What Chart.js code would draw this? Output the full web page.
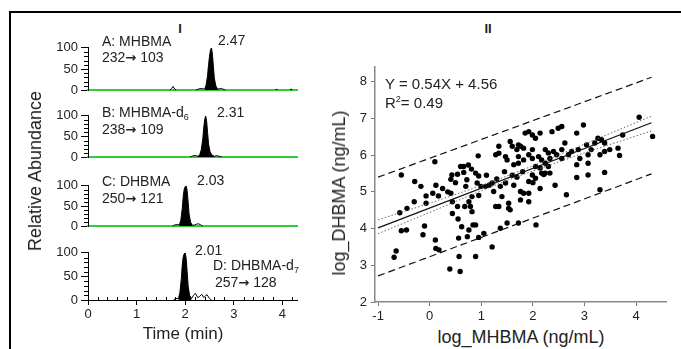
<!DOCTYPE html>
<html><head><meta charset="utf-8">
<script src="https://cdn.jsdelivr.net/npm/chart.js@4/dist/chart.umd.min.js"></script>
<style>
body{margin:0;width:681px;height:349px;background:#fff;position:relative;overflow:hidden;font-family:"Liberation Sans",Arial,sans-serif;color:#222}
.t{position:absolute;white-space:nowrap;line-height:1;font-size:14px}
.c{transform:translate(-50%,-50%)}
.r{transform:translate(-50%,-50%) rotate(-90deg)}
.a{font-family:"DejaVu Sans";font-weight:bold;font-size:13px}
sub{font-size:9px;vertical-align:-3px;line-height:0}
sup{font-size:9px;vertical-align:6px;line-height:0}
canvas{position:absolute}
#frame{position:absolute;left:9px;top:11px;width:720px;height:400px;border-left:2px solid #000;border-top:2px solid #000}
</style></head>
<body>
<div id="frame"></div>
<canvas id="cA" width="270" height="64" style="left:40px;top:37px"></canvas>
<canvas id="cB" width="270" height="63" style="left:40px;top:105px"></canvas>
<canvas id="cC" width="270" height="62" style="left:40px;top:175px"></canvas>
<canvas id="cD" width="270" height="80" style="left:40px;top:242px"></canvas>
<canvas id="cS" width="346" height="269" style="left:335px;top:55px"></canvas>

<div class="t c" style="left:180px;top:28px;font-weight:bold;font-size:13px">I</div>
<div class="t c" style="left:488px;top:28px;font-weight:bold;font-size:13px">II</div>

<div class="t" style="left:102px;top:34px">A: MHBMA</div>
<div class="t" style="left:102px;top:50px">232<span class="a">→</span> 103</div>
<div class="t" style="left:218px;top:33px">2.47</div>
<div class="t" style="left:102px;top:105px">B: MHBMA-d<sub>6</sub></div>
<div class="t" style="left:102px;top:122px">238<span class="a">→</span> 109</div>
<div class="t" style="left:217px;top:105px">2.31</div>
<div class="t" style="left:102px;top:174px">C: DHBMA</div>
<div class="t" style="left:102px;top:191px">250<span class="a">→</span> 121</div>
<div class="t" style="left:197px;top:173px">2.03</div>
<div class="t" style="left:195px;top:243px">2.01</div>
<div class="t" style="left:213px;top:258px">D: DHBMA-d<sub>7</sub></div>
<div class="t" style="left:215px;top:275px">257<span class="a">→</span> 128</div>

<div class="t c" style="left:183px;top:333px;font-size:17px">Time (min)</div>
<div class="t r" style="left:35px;top:171px;font-size:18px">Relative Abundance</div>

<div class="t" style="left:385px;top:76px;font-size:15px">Y = 0.54X + 4.56</div>
<div class="t" style="left:385px;top:95px;font-size:15px">R<sup>2</sup>= 0.49</div>
<div class="t c" style="left:521px;top:337px;font-size:18px">log_MHBMA (ng/mL)</div>
<div class="t r" style="left:339px;top:193px;font-size:18px">log_DHBMA (ng/mL)</div>

<script>
// ---- axis ticks ----
const timeTicks = [0, 1, 2, 3, 4];
const timeMinor = [0.2,0.4,0.6,0.8,1.2,1.4,1.6,1.8,2.2,2.4,2.6,2.8,3.2,3.4,3.6,3.8,4.2];
const abundTicks = [0, 50, 100];
const abundMinor = [10,20,30,40,60,70,80,90];
const logXTicks = [-1, 0, 1, 2, 3, 4];
const logYTicks = [2, 3, 4, 5, 6, 7, 8];

// ---- Panel A: MHBMA ----
const peakA_t = [2.40,2.43,2.46,2.48,2.50,2.52,2.54,2.56,2.58,2.60,2.63,2.67];
const peakA_v = [3,12,35,60,80,95,100,85,55,28,10,2];
const noiseA_t = [1.68,1.72,1.75,1.78,1.82,1.82,2.22,2.28,2.33,2.38,2.40,2.40,2.67,2.72,2.77,2.83,2.83,3.85,3.88,3.91,3.91,4.15,4.18,4.21];
const noiseA_v = [0,4,9,3,0,null,0,3,4,3,3,null,2,4,3,0,null,0,2,0,null,0,3,0];
// ---- Panel B: MHBMA-d6 ----
const peakB_t = [2.26,2.30,2.33,2.36,2.38,2.40,2.42,2.44,2.46,2.48,2.51,2.55,2.60];
const peakB_v = [2,6,18,42,70,90,100,88,60,32,14,5,2];
const noiseB_t = [2.10,2.15,2.20,2.24,2.26,2.26,2.60,2.65,2.70,2.76];
const noiseB_v = [0,3,4,3,2,null,2,4,2,0];
// ---- Panel C: DHBMA ----
const peakC_t = [1.88,1.91,1.94,1.96,1.98,2.00,2.02,2.04,2.06,2.08,2.11,2.15];
const peakC_v = [3,15,45,75,92,98,100,88,60,30,10,2];
const noiseC_t = [1.74,1.78,1.83,1.88,1.88,2.15,2.19,2.23,2.27,2.31,2.36];
const noiseC_v = [0,3,4,3,null,2,3,5,6,4,0];
// ---- Panel D: DHBMA-d7 ----
const peakD_t = [1.86,1.89,1.92,1.94,1.96,1.98,2.00,2.02,2.04,2.06,2.09,2.13];
const peakD_v = [3,15,45,75,92,98,100,88,60,30,10,3];
const noiseD_t = [1.76,1.80,1.86,1.86,2.13,2.17,2.21,2.26,2.30,2.34,2.38,2.42,2.45,2.50,2.54];
const noiseD_v = [0,3,3,null,3,10,14,5,8,12,5,9,11,3,0];

// ---- Panel II: scatter ----
const logMHBMA = [-0.55,-0.29,-0.17,-0.30,-0.44,-0.58,-0.55,-0.45,-0.13,-0.10,-0.65,-0.69,-0.07,-0.07,0.06,0.12,0.25,0.17,0.11,0.12,0.18,0.41,0.41,0.43,0.44,0.44,0.54,0.55,0.56,0.57,0.39,0.59,0.62,0.72,0.68,0.76,0.82,0.79,0.82,0.76,0.73,0.84,0.89,0.89,0.95,1.05,0.89,0.92,0.99,1.08,1.15,1.21,1.24,1.28,1.34,1.21,1.37,1.37,1.47,1.40,1.53,1.53,1.56,1.50,1.72,1.63,1.69,1.76,1.76,1.82,1.92,1.92,1.92,1.99,2.05,2.06,2.14,2.17,2.24,2.43,2.65,2.85,3.07,3.30,3.39,
 0.10,0.60,0.66,0.75,0.81,0.54,0.66,0.94,0.95,1.28,1.34,1.47,1.50,1.56,1.60,1.69,1.72,1.76,1.82,1.85,1.92,1.99,2.05,2.14,1.99,1.92,1.72,1.63,1.72,1.82,1.99,2.11,2.05,2.14,2.24,2.30,2.33,2.21,2.37,2.49,2.56,2.40,2.46,2.56,2.62,2.56,2.69,2.75,2.85,2.88,2.98,2.91,2.85,3.04,3.07,3.13,3.20,3.07,3.26,3.33,3.39,3.30,3.39,3.49,3.65,3.68,3.74,4.06,4.32,2.24,2.30,2.33,2.17,1.34,
 1.45,1.30,1.10,1.60,1.80,2.00,0.50,0.70,0.35,0.95];
const logDHBMA = [5.46,5.28,5.15,4.73,4.55,4.43,3.94,3.96,3.83,4.07,3.39,3.22,4.89,4.69,4.96,5.18,5.09,4.89,3.69,3.46,3.42,4.96,5.34,5.46,4.73,4.41,4.60,4.26,3.74,3.24,2.90,2.83,4.05,5.33,4.60,4.73,4.87,4.60,4.46,3.96,3.78,4.10,4.10,3.24,3.76,3.87,5.51,5.24,5.15,5.15,5.18,5.24,5.01,4.60,4.60,3.50,4.01,5.15,5.24,4.87,4.69,4.55,4.51,4.15,4.15,5.18,5.40,5.01,4.78,4.96,4.96,4.73,5.28,5.46,5.37,4.10,5.09,5.51,5.51,5.18,4.92,5.39,5.46,5.06,5.53,
 5.82,5.69,5.69,5.73,5.62,5.48,5.53,5.98,5.43,6.01,6.05,5.96,5.87,6.37,6.24,6.15,6.28,6.24,6.19,6.60,6.64,6.55,6.46,6.60,6.15,6.01,5.96,5.74,5.78,5.87,5.91,5.96,5.69,5.65,5.78,5.69,5.51,5.47,6.64,6.73,6.78,6.10,6.01,6.15,6.33,5.91,6.01,6.10,6.60,6.15,6.82,5.91,5.74,6.28,6.01,6.15,6.33,5.78,6.46,6.42,6.33,6.01,6.10,6.15,6.19,5.99,6.55,7.03,6.51,6.15,6.06,5.91,5.87,6.24,
 5.55,5.35,5.45,5.45,5.55,5.25,5.25,5.15,5.00,4.90];

const fitX = [-1, 4.3];
const fitY = [4.02, 6.88];
const ciX = [-1, 0, 1, 1.5, 2, 3, 4.3];
const ciUpY = [4.24, 4.69, 5.17, 5.43, 5.71, 6.30, 7.06];
const ciLoY = [3.86, 4.44, 5.03, 5.31, 5.57, 6.06, 6.66];
const predX = [-1, 4.3];
const predUpY = [5.40, 8.12];
const predLoY = [2.71, 5.49];

// ---- helpers ----
const toXY = (xs, ys) => xs.map((x, i) => ({x: x, y: ys[i]}));
Chart.defaults.font.family = '"Liberation Sans", Arial, sans-serif';
Chart.defaults.color = '#222';
Chart.defaults.animation = false;

const minorTicks = {
  id: 'minorTicks',
  afterDraw(chart, args, opts) {
    const ctx = chart.ctx;
    ctx.save(); ctx.strokeStyle = '#000'; ctx.lineWidth = 1;
    if (opts.y) {
      const s = chart.scales.y; const x0 = s.right;
      for (const v of opts.y) {
        const y = Math.round(s.getPixelForValue(v)) + 0.5;
        ctx.beginPath(); ctx.moveTo(x0 - 4, y); ctx.lineTo(x0, y); ctx.stroke();
      }
    }
    if (opts.x) {
      const s = chart.scales.x; const y0 = s.top;
      for (const v of opts.x) {
        const x = Math.round(s.getPixelForValue(v)) + 0.5;
        ctx.beginPath(); ctx.moveTo(x, y0 - 3); ctx.lineTo(x, y0 + 1); ctx.stroke();
      }
    }
    ctx.restore();
  }
};

function makeChrom(id, pT, pV, nT, nV, isBottom) {
  new Chart(document.getElementById(id), {
    type: 'line',
    data: {datasets: [
      {data: toXY(nT, nV), borderColor: '#000', borderWidth: 1, pointRadius: 0, fill: false, spanGaps: false, tension: 0},
      {data: toXY(pT, pV), borderColor: '#000', backgroundColor: '#000', borderWidth: 1, pointRadius: 0, fill: 'origin', tension: 0}
    ]},
    options: {
      responsive: false, animation: false, events: [],
      layout: {padding: {left: 0, right: 13, top: 10, bottom: isBottom ? 0 : 4}},
      plugins: {legend: {display: false}, tooltip: {enabled: false},
        minorTicks: {y: abundMinor, x: isBottom ? timeMinor : null}},
      scales: {
        x: {type: 'linear', min: 0, max: 4.3,
          afterBuildTicks: s => { s.ticks = timeTicks.map(v => ({value: v})); },
          ticks: {display: isBottom, font: {size: 13}, padding: 2, maxRotation: 0, autoSkip: false, color: '#222'},
          grid: {drawOnChartArea: false, display: isBottom, tickLength: 5, color: '#000'},
          border: {color: isBottom ? '#000' : '#33cc33', width: isBottom ? 1 : 2},
          afterFit: s => { s.height = isBottom ? 22 : 0; }},
        y: {min: 0, max: 100,
          afterBuildTicks: s => { s.ticks = abundTicks.map(v => ({value: v})); },
          ticks: {font: {size: 13}, padding: 3, color: '#222'},
          grid: {drawOnChartArea: false, tickLength: 7, color: '#000'},
          border: {color: '#000', width: 1},
          afterFit: s => { s.width = 48; }}
      }
    },
    plugins: [minorTicks]
  });
}
makeChrom('cA', peakA_t, peakA_v, noiseA_t, noiseA_v, false);
makeChrom('cB', peakB_t, peakB_v, noiseB_t, noiseB_v, false);
makeChrom('cC', peakC_t, peakC_v, noiseC_t, noiseC_v, false);
makeChrom('cD', peakD_t, peakD_v, noiseD_t, noiseD_v, true);

const lineDs = (xs, ys, color, dash, w) => ({data: toXY(xs, ys), showLine: true, borderColor: color, borderDash: dash, borderWidth: w, pointRadius: 0, fill: false});
new Chart(document.getElementById('cS'), {
  type: 'scatter',
  data: {datasets: [
    lineDs(predX, predUpY, '#111', [7, 4], 1.2),
    lineDs(predX, predLoY, '#111', [7, 4], 1.2),
    lineDs(ciX, ciUpY, '#666', [1.5, 2], 1),
    lineDs(ciX, ciLoY, '#666', [1.5, 2], 1),
    lineDs(fitX, fitY, '#111', [], 1.2),
    {data: toXY(logMHBMA, logDHBMA), pointRadius: 2.7, backgroundColor: '#000', borderWidth: 0}
  ]},
  options: {
    responsive: false, animation: false, events: [],
    layout: {padding: {left: 0, right: 15, top: 12, bottom: 0}},
    plugins: {legend: {display: false}, tooltip: {enabled: false}},
    scales: {
      x: {type: 'linear', min: -1.06, max: 4.58,
        afterBuildTicks: s => { s.ticks = logXTicks.map(v => ({value: v})); },
        ticks: {font: {size: 13}, padding: 3, maxRotation: 0, autoSkip: false, color: '#222'},
        grid: {drawOnChartArea: false, tickLength: 4, color: '#777'},
        border: {color: '#888', width: 1.5},
        afterFit: s => { s.height = 22; }},
      y: {min: 2, max: 8.4,
        afterBuildTicks: s => { s.ticks = logYTicks.map(v => ({value: v})); },
        ticks: {font: {size: 13}, padding: 4, color: '#222'},
        grid: {drawOnChartArea: false, tickLength: 4, color: '#777'},
        border: {color: '#888', width: 1.5},
        afterFit: s => { s.width = 40; }}
    }
  }
});
</script>
</body></html>
